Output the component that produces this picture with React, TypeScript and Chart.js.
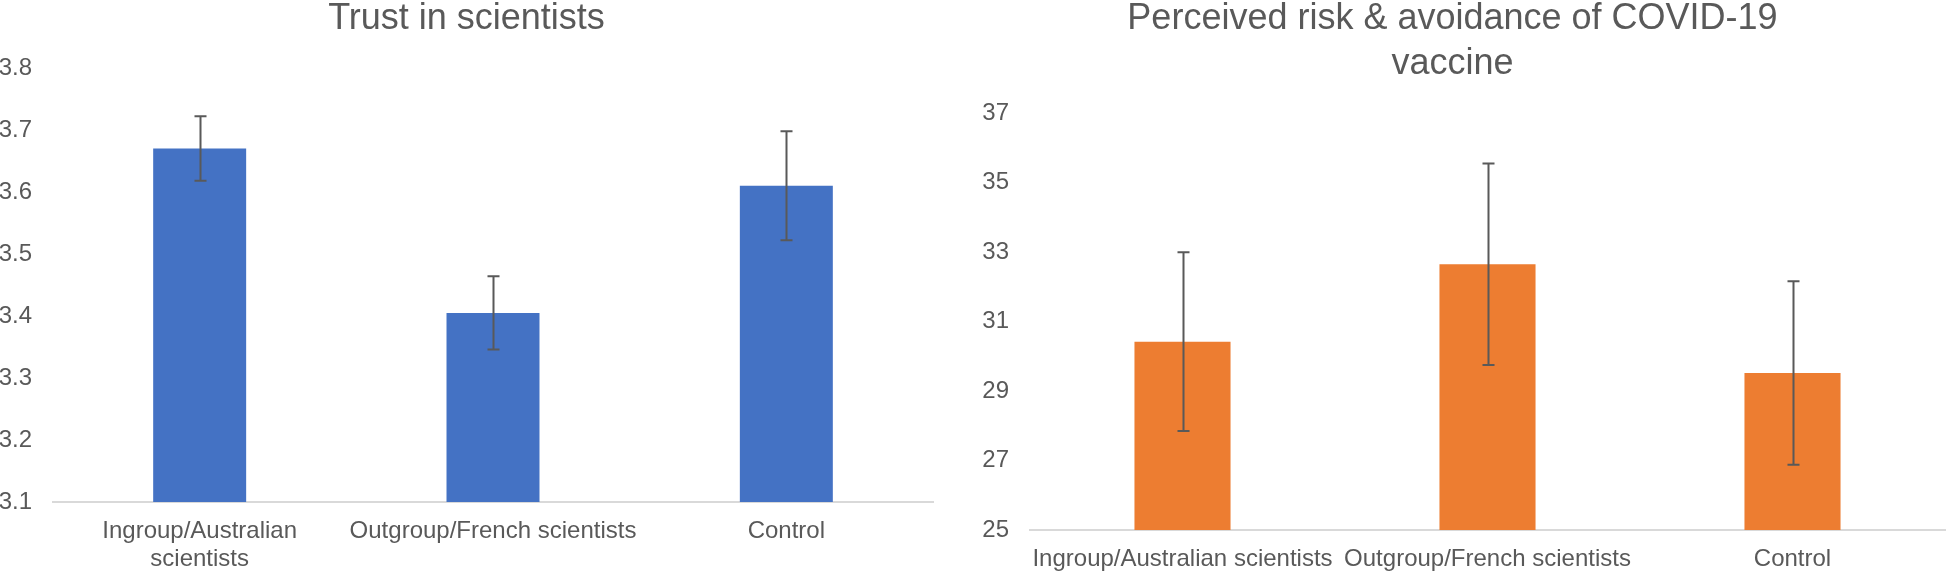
import React, { useEffect, useRef } from "react";
import { Chart, registerables } from "chart.js";

Chart.register(...registerables);

// ---- Data ----
const trustCategories: (string | string[])[] = [
  ["Ingroup/Australian", "scientists"],
  "Outgroup/French scientists",
  "Control",
];
const trustMeans = [3.67, 3.405, 3.61];
const trustErrors = [0.052, 0.059, 0.088];
const trustTicks = { min: 3.1, max: 3.8, step: 0.1 };

const riskCategories: string[] = [
  "Ingroup/Australian scientists",
  "Outgroup/French scientists",
  "Control",
];
const riskMeans = [30.42, 32.65, 29.52];
const riskErrors = [2.57, 2.9, 2.64];
const riskTicks = { min: 25, max: 37, step: 2 };

const trustTitle = ["Trust in scientists"];
const riskTitle = ["Perceived risk & avoidance of COVID-19", "vaccine"];

const TEXT = "#595959";
const FONT = "'Liberation Sans', Arial, sans-serif";

const errorBarPlugin = {
  id: "errorBars",
  afterDatasetsDraw(chart: any) {
    const errs: number[] = chart.options.plugins.errorBars?.errors || [];
    const means: number[] = chart.data.datasets[0].data;
    const meta = chart.getDatasetMeta(0);
    const y = chart.scales.y;
    const ctx = chart.ctx;
    ctx.save();
    ctx.strokeStyle = "#595959";
    ctx.lineWidth = 2;
    meta.data.forEach((bar: any, i: number) => {
      const x = Math.round(bar.x) + 0.5;
      const top = y.getPixelForValue(means[i] + errs[i]);
      const bot = y.getPixelForValue(means[i] - errs[i]);
      ctx.beginPath();
      ctx.moveTo(x, top);
      ctx.lineTo(x, bot);
      ctx.moveTo(x - 6, top);
      ctx.lineTo(x + 6, top);
      ctx.moveTo(x - 6, bot);
      ctx.lineTo(x + 6, bot);
      ctx.stroke();
    });
    ctx.restore();
  },
};

interface Spec {
  labels: (string | string[])[];
  means: number[];
  errors: number[];
  ticks: { min: number; max: number; step: number };
  title: string[];
  color: string;
  yAxisWidth: number;
  xAxisHeight: number;
  rightPad: number;
  barPct: number;
  decimals: number;
}

function BarChart({ spec, width, height }: { spec: Spec; width: number; height: number }) {
  const ref = useRef<HTMLCanvasElement>(null);
  useEffect(() => {
    if (!ref.current) return;
    const chart = new Chart(ref.current, {
      type: "bar",
      data: {
        labels: spec.labels as any,
        datasets: [
          {
            data: spec.means,
            backgroundColor: spec.color,
            borderWidth: 0,
            categoryPercentage: 1,
            barPercentage: spec.barPct,
          },
        ],
      },
      plugins: [errorBarPlugin],
      options: {
        responsive: false,
        animation: false,
        events: [],
        layout: { padding: { left: 0, right: spec.rightPad, top: 0, bottom: 0 } },
        plugins: {
          legend: { display: false },
          tooltip: { enabled: false },
          title: {
            display: true,
            text: spec.title,
            color: TEXT,
            font: { family: FONT, size: 36, weight: "normal", lineHeight: 1.25 },
            padding: { top: 5, bottom: 26 },
          },
          errorBars: { errors: spec.errors },
        } as any,
        scales: {
          x: {
            grid: { display: false, drawTicks: false },
            border: { display: true, color: "#D9D9D9", width: 2 },
            ticks: {
              color: TEXT,
              font: { family: FONT, size: 24, lineHeight: 28 / 24 },
              padding: 15,
              maxRotation: 0,
              minRotation: 0,
              autoSkip: false,
            },
            afterFit: (axis: any) => {
              axis.height = spec.xAxisHeight;
            },
          },
          y: {
            min: spec.ticks.min,
            max: spec.ticks.max,
            grid: { display: false, drawTicks: false },
            border: { display: false },
            ticks: {
              stepSize: spec.ticks.step,
              color: TEXT,
              font: { family: FONT, size: 24 },
              padding: 21,
              callback: (v: any) => Number(v).toFixed(spec.decimals),
            },
            afterFit: (axis: any) => {
              axis.width = spec.yAxisWidth;
            },
          },
        },
      } as any,
    });
    return () => chart.destroy();
  }, [spec]);
  return <canvas ref={ref} width={width} height={height} style={{ display: "block" }} />;
}

const leftSpec: Spec = {
  labels: trustCategories,
  means: trustMeans,
  errors: trustErrors,
  ticks: trustTicks,
  title: trustTitle,
  color: "#4472C4",
  yAxisWidth: 53,
  xAxisHeight: 71,
  rightPad: 27,
  barPct: 0.317,
  decimals: 1,
};

const rightSpec: Spec = {
  labels: riskCategories,
  means: riskMeans,
  errors: riskErrors,
  ticks: riskTicks,
  title: riskTitle,
  color: "#ED7D31",
  yAxisWidth: 70,
  xAxisHeight: 43,
  rightPad: 1,
  barPct: 0.315,
  decimals: 0,
};

export default function App() {
  useEffect(() => {
    document.body.style.overflow = "hidden";
  }, []);
  return (
    <div>
      <div style={{ position: "absolute", left: 0, top: -8, width: 960, height: 581 }}>
        <BarChart spec={leftSpec} width={960} height={581} />
      </div>
      <div style={{ position: "absolute", left: 960, top: -8, width: 986, height: 581 }}>
        <BarChart spec={rightSpec} width={986} height={581} />
      </div>
    </div>
  );
}
